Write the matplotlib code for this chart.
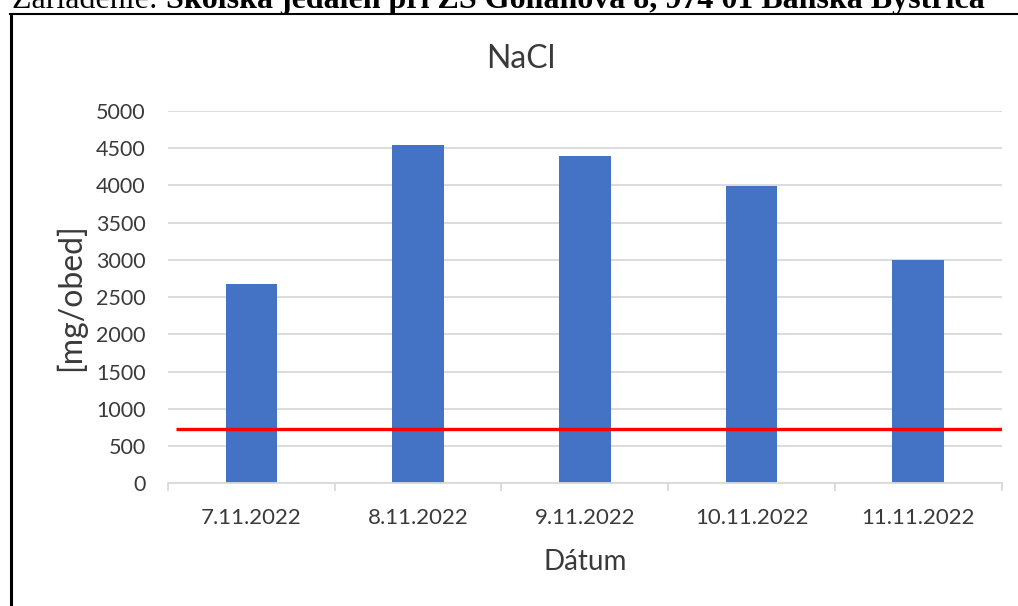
import matplotlib
matplotlib.use("Agg")
import matplotlib.pyplot as plt
from matplotlib.lines import Line2D
import numpy as np

# ---- data ----
dates = ["7.11.2022", "8.11.2022", "9.11.2022", "10.11.2022", "11.11.2022"]
nacl_values = [2670, 4550, 4400, 3990, 3000]
limit_value = 730
yticks = list(range(0, 5001, 500))
title = "NaCl"
ylabel = "[mg/obed]"
xlabel = "Dátum"
header_regular = "Zariadenie: "
header_bold = "Školská jedáleň pri ZŠ Golianova 8, 974 01 Banská Bystrica"

W, H = 1018, 606
fig = plt.figure(figsize=(W / 100, H / 100), dpi=100)
fig.patch.set_facecolor("white")

def fx(px):
    return px / W

def fy(py):
    return 1 - py / H

ax_l, ax_r, ax_b, ax_t = 168, 1001.7, 483.3, 111
ax = fig.add_axes([fx(ax_l), fy(ax_b), fx(ax_r - ax_l), (ax_b - ax_t) / H])

chart_font = "Lato"
x = np.arange(len(dates))
ax.bar(x, nacl_values, width=0.31, color="#4472C4", zorder=2)
ax.plot([-0.454, 4.5], [limit_value, limit_value], color="#FF0000", lw=2.4,
        zorder=3, solid_capstyle="butt")

ax.set_xlim(-0.5, 4.5)
ax.set_ylim(0, 5000)
ax.set_yticks(yticks)
ax.set_yticklabels([str(v) for v in yticks], fontfamily=chart_font, fontsize=15.5,
                   color="#3a3a3a")
ax.tick_params(axis="y", length=0, pad=16)
ax.yaxis.grid(True, color="#d9d9d9", lw=1.3)
ax.set_axisbelow(True)

ax.set_xticks(np.arange(-0.5, len(dates), 1.0))
ax.set_xticklabels([])
ax.tick_params(axis="x", which="major", length=6, color="#d9d9d9", width=1.3)
ax.set_xticks(x, minor=True)
ax.set_xticklabels(dates, minor=True, fontfamily=chart_font, fontsize=16,
                   color="#3a3a3a")
ax.tick_params(axis="x", which="minor", length=0, pad=18)

for s in ["top", "right", "left"]:
    ax.spines[s].set_visible(False)
ax.spines["bottom"].set_color("#d9d9d9")
ax.spines["bottom"].set_linewidth(1.3)

fig.text(fx(521), fy(68), title, ha="center", va="baseline",
         fontfamily=chart_font, fontsize=23, color="#3a3a3a")
fig.text(fx(585), fy(570), xlabel, ha="center", va="baseline",
         fontfamily=chart_font, fontsize=20, color="#3a3a3a")
fig.text(fx(70), fy(297.5), ylabel, ha="center", va="center", rotation=90,
         fontfamily=chart_font, fontsize=23, color="#3a3a3a")

# border
fig.add_artist(Line2D([fx(11), fx(11)], [fy(14), fy(H + 5)], transform=fig.transFigure,
                      color="black", lw=2.2))
fig.add_artist(Line2D([fx(10), fx(W + 5)], [fy(14), fy(14)], transform=fig.transFigure,
                      color="black", lw=1.5))

# header (clipped at the top edge, as in the reference)
renderer = fig.canvas.get_renderer()
t1 = fig.text(fx(12), fy(8), header_regular, ha="left", va="baseline",
              fontfamily="Liberation Serif", fontsize=23, color="black")
bb = t1.get_window_extent(renderer)
fig.text(bb.x1 / W, fy(8), header_bold, ha="left", va="baseline",
         fontfamily="Liberation Serif", fontsize=23, fontweight="bold", color="black")

fig.savefig("out.png", dpi=100)
